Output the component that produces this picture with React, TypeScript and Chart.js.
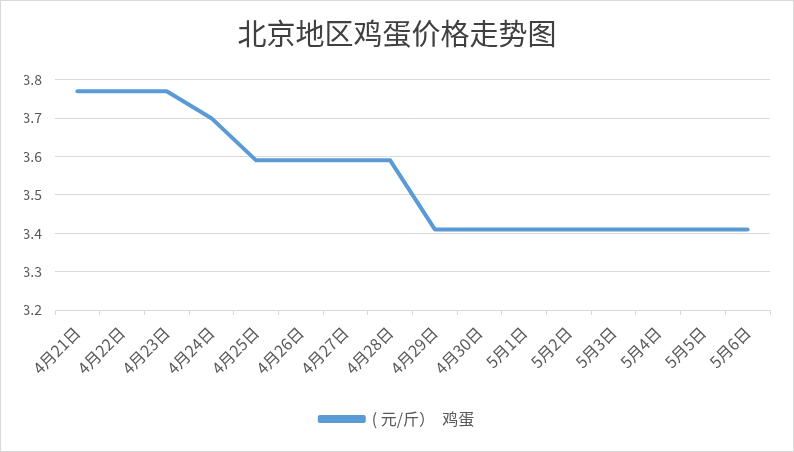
import React, { useEffect, useRef } from "react";
import { Chart, registerables } from "chart.js";

Chart.register(...registerables);

const title = "北京地区鸡蛋价格走势图";
const categories = [
  "4月21日", "4月22日", "4月23日", "4月24日", "4月25日", "4月26日", "4月27日", "4月28日",
  "4月29日", "4月30日", "5月1日", "5月2日", "5月3日", "5月4日", "5月5日", "5月6日",
];
const seriesName = "( 元/斤）  鸡蛋";
const prices = [3.77, 3.77, 3.77, 3.70, 3.59, 3.59, 3.59, 3.59, 3.41, 3.41, 3.41, 3.41, 3.41, 3.41, 3.41, 3.41];
const yMin = 3.2;
const yMax = 3.8;
const yStep = 0.1;

const FONT = "'Noto Sans CJK SC', 'Noto Sans', sans-serif";

const borderPlugin = {
  id: "frame",
  beforeDraw(chart: any) {
    const ctx = chart.ctx;
    ctx.save();
    ctx.fillStyle = "#ffffff";
    ctx.fillRect(0, 0, chart.width, chart.height);
    ctx.strokeStyle = "#d9d9d9";
    ctx.lineWidth = 1;
    ctx.strokeRect(0.5, 0.5, chart.width - 1, chart.height - 1);
    ctx.restore();
  },
};

export default function App() {
  const ref = useRef<HTMLCanvasElement | null>(null);
  useEffect(() => {
    document.body.style.margin = "0";
    const chart = new Chart(ref.current!, {
      type: "line",
      data: {
        labels: categories,
        datasets: [
          {
            label: seriesName,
            data: prices,
            borderColor: "#5B9BD5",
            backgroundColor: "#5B9BD5",
            borderWidth: 4,
            pointRadius: 0,
            tension: 0,
            borderCapStyle: "round",
            borderJoinStyle: "round",
          },
        ],
      },
      options: {
        responsive: false,
        animation: false,
        layout: { padding: { left: 24, right: 24, top: 0, bottom: 15 } },
        plugins: {
          title: {
            display: true,
            text: title,
            color: "#404040",
            font: { family: FONT, size: 29, weight: "normal" },
            padding: { top: 17, bottom: 28 },
          },
          legend: {
            position: "bottom",
            labels: {
              color: "#595959",
              font: { family: FONT, size: 16 },
              boxWidth: 44,
              boxHeight: 4,
              padding: 10,
            },
          },
          tooltip: { enabled: false },
        },
        scales: {
          x: {
            offset: true,
            grid: {
              offset: true,
              drawOnChartArea: false,
              drawTicks: true,
              tickLength: 5,
              color: "#d9d9d9",
            },
            border: { display: true, color: "#d9d9d9", width: 1 },
            ticks: {
              color: "#595959",
              font: { family: FONT, size: 16 },
              maxRotation: 45,
              minRotation: 45,
              autoSkip: false,
              padding: 8,
            },
            afterFit(scale: any) {
              scale.height = 91;
            },
          },
          y: {
            min: yMin,
            max: yMax,
            ticks: {
              stepSize: yStep,
              color: "#595959",
              font: { family: FONT, size: 14 },
              padding: 13,
              callback: (v: any) => Number(v).toFixed(1),
            },
            grid: { color: "#d9d9d9", drawTicks: false, lineWidth: 1 },
            border: { display: false },
            afterFit(scale: any) {
              scale.width = 31;
            },
          },
        },
      },
      plugins: [borderPlugin],
    });
    return () => chart.destroy();
  }, []);
  return <canvas ref={ref} width={794} height={452} style={{ display: "block" }} />;
}
